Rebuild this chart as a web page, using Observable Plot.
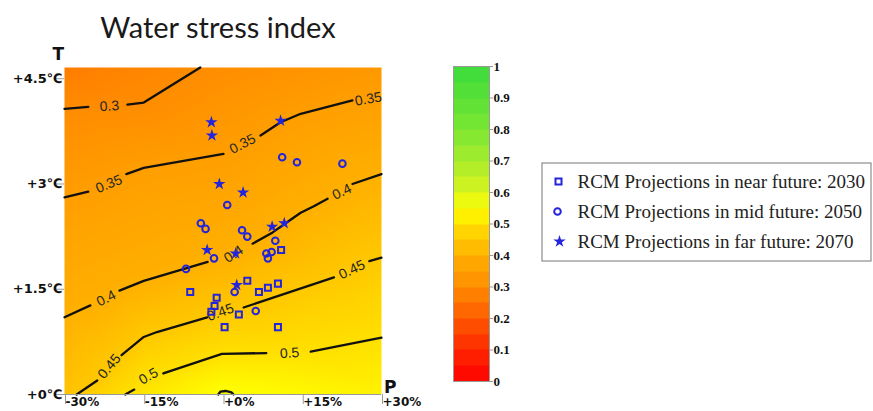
<!DOCTYPE html>
<html><head><meta charset="utf-8">
<script src="https://cdn.jsdelivr.net/npm/d3@7"></script>
<script src="https://cdn.jsdelivr.net/npm/@observablehq/plot@0.6"></script>
<style>
body{margin:0;background:#fff;}
#wrap{position:relative;width:873px;height:411px;overflow:hidden;background:#fff;}
#wrap > svg{position:absolute;}
</style></head><body><div id="wrap"></div>
<script>
// axis ticks
const pTicks = [-30, -15, 0, 15, 30];
const tTicks = [0, 1.5, 3, 4.5];
const colorbarTicks = [0, 0.1, 0.2, 0.3, 0.4, 0.5, 0.6, 0.7, 0.8, 0.9, 1];
// colour ramp
const colorStops = [0, 0.1, 0.2, 0.3, 0.4, 0.5, 0.55, 0.6, 0.7, 0.8, 0.9, 1];
const colorRange = ["#ff0000","#ff2800","#ff5a00","#ff8c00","#ffb000","#ffe000","#ffff00","#d8f41e","#a8ec2c","#7ce632","#58e036","#3cdc3c"];

// RCM projections [P %, T degC]
const near2030 = [[-6.2,1.46],[-1.2,1.38],[-1.6,1.26],[-2.2,1.18],[3.0,1.14],[0.3,0.96],[10.4,0.96],[4.6,1.62],[6.8,1.46],[8.5,1.52],[10.4,1.58],[11.0,2.06]];
const mid2050 = [[11.2,3.38],[14.0,3.31],[22.6,3.29],[0.8,2.70],[-4.2,2.44],[-3.3,2.36],[3.6,2.34],[4.6,2.25],[9.9,2.19],[-1.7,1.94],[8.2,2.01],[9.2,2.03],[8.5,1.94],[-7.0,1.79],[2.2,1.46],[6.2,1.19]];
const far2070 = [[-2.2,3.88],[-2.1,3.69],[10.9,3.90],[-0.7,3.00],[3.8,2.88],[9.3,2.39],[11.6,2.44],[-3.0,2.06],[2.4,2.01],[2.6,1.56]];

// contour lines (segments between labels), [P, T]
const contour030 = [[[-30,4.07],[-25.5,4.10]], [[-18.1,4.13],[-15.0,4.16],[-4.3,4.66]]];
const contour035 = [[[-30,2.81],[-25.5,2.89]], [[-18.3,3.14],[-15.0,3.23],[0.1,3.43]], [[7.1,3.69],[10.9,3.88],[14.7,4.00],[24.5,4.19]]];
const contour040 = [[[-30,1.10],[-25.1,1.27]], [[-19.6,1.48],[-15.0,1.62],[-2.9,1.89]], [[5.6,2.15],[9.4,2.31],[12.8,2.49],[14.7,2.59],[17.1,2.68],[19.8,2.79]], [[24.5,3.00],[30,3.14]]];
const contour045 = [[[-27.7,0],[-23.8,0.20]], [[-19.2,0.56],[-15.0,0.82],[-12.5,0.89],[-3.0,1.10]], [[3.9,1.24],[21.0,1.67]], [[27.7,1.90],[30,1.95]]];
const contour050 = [[[-18.5,0],[-16.8,0.07]], [[-11.3,0.30],[-0.2,0.58],[8.2,0.59]], [[16.6,0.61],[30,0.81]]];
const contour055 = [[[-0.9,0],[-0.5,0.04],[0.5,0.05],[1.6,0.03],[2.0,0]]];
const contourLevels = [0.30, 0.35, 0.40, 0.45, 0.50, 0.55];

// inline contour labels: value, P, T, angle
const contourLabels = [
  {v:0.3, p:-21.5, t:4.11, a:-4},
  {v:0.35, p:-21.6, t:3.00, a:-22},
  {v:0.35, p:3.7, t:3.57, a:-27},
  {v:0.35, p:27.5, t:4.21, a:-10},
  {v:0.4, p:-22.1, t:1.37, a:-27},
  {v:0.4, p:2.0, t:2.00, a:-33},
  {v:0.4, p:22.5, t:2.89, a:-25},
  {v:0.45, p:-21.5, t:0.40, a:-50},
  {v:0.45, p:-0.5, t:1.17, a:-20},
  {v:0.45, p:24.4, t:1.78, a:-25},
  {v:0.5, p:-14.1, t:0.26, a:-30},
  {v:0.5, p:12.6, t:0.59, a:-4}
];
// field values at the frame edges [P, T, value]
const edgeValues = [[-30,4.66,0.27],[-17,4.66,0.285],[30,4.66,0.335],[30,4.25,0.35],[-30,0,0.44],[30,0,0.53],[0.5,0,0.56]];

const seriesNames = ["RCM Projections in near future: 2030","RCM Projections in mid future: 2050","RCM Projections in far future: 2070"];
const blue = "#2424dc";

const contourSets = [contour030, contour035, contour040, contour045, contour050, contour055];
const lineRows = contourSets.flatMap((segs, i) => segs.flatMap((s, j) => s.map(([p, t]) => ({p, t, v: contourLevels[i], seg: i + "-" + j}))));
const samples = lineRows.map(d => ({p: d.p, t: d.t, v: d.v}))
  .concat(contourLabels.map(d => ({p: d.p, t: d.t, v: d.v})))
  .concat(edgeValues.map(([p, t, v]) => ({p, t, v})));

const colorScale = {type: "linear", domain: colorStops, range: colorRange, interpolate: "rgb"};
const wrap = document.getElementById("wrap");

const main = Plot.plot({
  width: 440, height: 411,
  marginLeft: 64, marginRight: 59, marginTop: 67, marginBottom: 17,
  style: {fontFamily: "DejaVu Sans", background: "transparent", overflow: "visible"},
  x: {domain: [-30, 30]},
  y: {domain: [0, 4.66]},
  color: colorScale,
  marks: [
    Plot.raster(samples, {x: "p", y: "t", fill: "v", interpolate: "barycentric", x1: -30, x2: 30, y1: 0, y2: 4.66}),
    Plot.line(lineRows, {x: "p", y: "t", z: "seg", stroke: "#111", strokeWidth: 2.3}),
    Plot.text(contourLabels, {x: "p", y: "t", text: d => String(d.v), rotate: "a", fontSize: 14, fill: "#262626", fontFamily: "Liberation Sans"}),
    Plot.ruleY([0], {stroke: "#999"}),
    Plot.axisY({ticks: tTicks, tickFormat: d => "+" + d + "℃", tickSize: 10, tickPadding: -8, stroke: "#999", fill: "#111", fontWeight: "bold", fontSize: 13, label: null}),
    Plot.axisX({ticks: pTicks, tickFormat: d => (d < 0 ? "" : "+") + d + "%", tickSize: 10, tickPadding: -7, textAnchor: "start", dx: 1, stroke: "#999", fill: "#111", fontWeight: "bold", fontSize: 12, label: null}),
    Plot.dot(near2030, {x: d => d[0], y: d => d[1], symbol: "square", r: 3.4, stroke: blue, strokeWidth: 2, fill: "none"}),
    Plot.dot(mid2050, {x: d => d[0], y: d => d[1], symbol: "circle", r: 3.3, stroke: blue, strokeWidth: 2, fill: "none"}),
    Plot.dot(far2070, {x: d => d[0], y: d => d[1], symbol: "star", r: 3.9, fill: blue, stroke: "none"}),
    Plot.text(["Water stress index"], {text: d => d, frameAnchor: "top", dx: -5, dy: -30, lineAnchor: "bottom", fontSize: 29, fontFamily: "Lato", fill: "#1a1a1a"}),
    Plot.text(["T"], {text: d => d, frameAnchor: "top-left", dx: -12, dy: -13, lineAnchor: "middle", fontSize: 17, fontWeight: "bold", fill: "#111"}),
    Plot.text(["P"], {text: d => d, frameAnchor: "bottom-right", dx: 15, dy: -7, lineAnchor: "middle", fontSize: 17, fontWeight: "bold", fill: "#111"})
  ]
});
main.style.left = "0px"; main.style.top = "0px";
wrap.appendChild(main);

const bar = Plot.plot({
  width: 80, height: 411,
  marginLeft: 13, marginRight: 31, marginTop: 66, marginBottom: 30,
  style: {background: "transparent", overflow: "visible"},
  x: {domain: [0, 1], axis: null},
  y: {domain: [0, 1]},
  color: colorScale,
  marks: [
    Plot.raster({x1: 0, x2: 1, y1: 0, y2: 1, fill: (x, y) => Math.min(0.975, Math.floor(y * 20) / 20 + 0.025)}),
    Plot.frame({stroke: "#999"}),
    Plot.axisY({anchor: "right", ticks: colorbarTicks, tickFormat: d => (d === 0 || d === 1) ? String(d) : d.toFixed(1), tickSize: 3, tickPadding: 1, stroke: "#999", fill: "#111", fontWeight: "bold", fontSize: 13, fontFamily: "Liberation Serif", label: null})
  ]
});
bar.style.left = "440px"; bar.style.top = "0px";
wrap.appendChild(bar);

const legend = Plot.plot({
  width: 330, height: 99, margin: 0,
  style: {background: "transparent", overflow: "visible"},
  x: {domain: [0, 1], axis: null},
  y: {type: "point", domain: seriesNames, range: [18, 79], padding: 0, axis: null},
  marks: [
    Plot.frame({stroke: "#777", inset: 0.5}),
    Plot.dot([seriesNames[0]], {y: d => d, frameAnchor: "left", dx: 17, symbol: "square", r: 3.4, stroke: blue, strokeWidth: 2, fill: "none"}),
    Plot.dot([seriesNames[1]], {y: d => d, frameAnchor: "left", dx: 16, symbol: "circle", r: 3.3, stroke: blue, strokeWidth: 2, fill: "none"}),
    Plot.dot([seriesNames[2]], {y: d => d, frameAnchor: "left", dx: 18, symbol: "star", r: 3.9, fill: blue}),
    Plot.text(seriesNames, {y: d => d, text: d => d, frameAnchor: "left", dx: 36, textAnchor: "start", fontFamily: "Liberation Serif", fontSize: 19, fill: "#222"})
  ]
});
legend.style.left = "541px"; legend.style.top = "162px";
wrap.appendChild(legend);
</script></body></html>
